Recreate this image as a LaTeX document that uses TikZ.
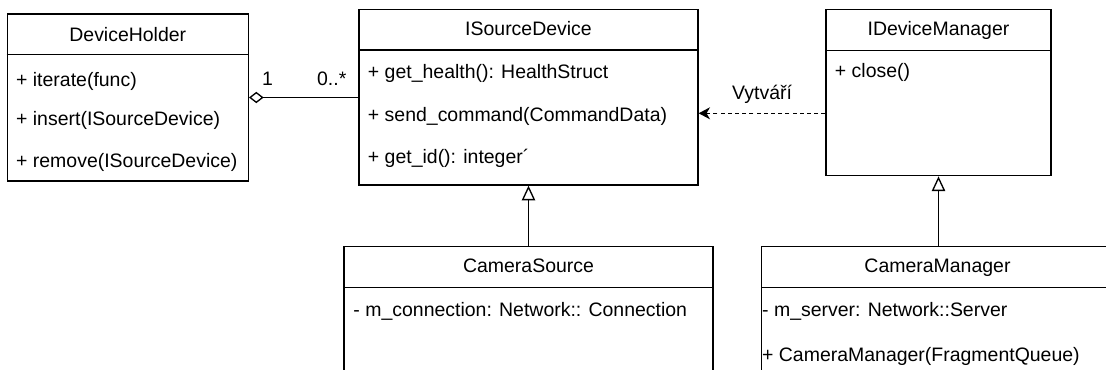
\documentclass[tikz,border=0pt]{standalone}
\usepackage{fontspec}
\setmainfont{Liberation Sans}
\usetikzlibrary{arrows.meta,fit,calc}
\begin{document}
\begin{tikzpicture}[x=0.75pt,y=-0.75pt,line width=1pt,
  umlbox/.style={draw,rectangle,inner sep=0pt,line width=1pt},
  txt/.style={anchor=base west,inner sep=0pt,font=\fontsize{14.6}{17}\selectfont},
  ttl/.style={anchor=base,inner sep=0pt,font=\fontsize{14.6}{17}\selectfont},
  gen/.style={-{Triangle[open,length=11pt,width=10pt]}},
  dep/.style={dash pattern=on 3pt off 2.4pt,-{Stealth[length=8.5pt,width=9pt,inset=2.6pt]}},
  agg/.style={{Diamond[open,length=11pt,width=8.5pt]}-}]
\clip (0,0) rectangle (1106,370);

% class boxes
\node[umlbox,fit={(7.3,14) (248.3,181)}] (holder) {};
\node[umlbox,fit={(359,9.3) (698,185)}] (isrc) {};
\node[umlbox,fit={(826,9.7) (1051,175.7)}] (idm) {};
\node[umlbox,fit={(344,246.7) (713,395)}] (csrc) {};
\node[umlbox,fit={(761.7,246.7) (1115,395)}] (cmgr) {};

% separators between name and members
\foreach \b in {holder,isrc,idm,csrc,cmgr}
  \draw ($(\b.north west)+(0,41.5)$) -- ($(\b.north east)+(0,41.5)$);

% DeviceHolder
\node[ttl] (holderT) at (127.8,41.7) {DeviceHolder};
\node[txt] (holder1) at (15.5,86.5) {+ iterate(func)};
\node[txt] (holder2) at (15.5,126) {+ insert(ISourceDevice)};
\node[txt] (holder3) at (15.5,168) {+ remove(ISourceDevice)};

% ISourceDevice
\node[ttl] (isrcT) at (528.5,36) {ISourceDevice};
\node[txt] (isrc1) at (367.3,78.3) {+ get\_health(): HealthStruct};
\node[txt] (isrc2) at (367.3,121.7) {+ send\_command(CommandData)};
\node[txt] (isrc3) at (367.3,163.5) {+ get\_id(): integer´};

% IDeviceManager
\node[ttl] (idmT) at (938.5,36) {IDeviceManager};
\node[txt] (idm1) at (834.3,78) {+ close()};

% CameraSource
\node[ttl] (csrcT) at (528.5,272.7) {CameraSource};
\node[txt] (csrc1) at (352.8,316.7) {- m\_connection: Network:: Connection};

% CameraManager
\node[ttl] (cmgrT) at (937.5,272.7) {CameraManager};
\node[txt] (cmgr1) at (761.5,316.7) {- m\_server: Network::Server};
\node[txt] (cmgr2) at (761.5,361.7) {+ CameraManager(FragmentQueue)};

% aggregation DeviceHolder -- ISourceDevice
\draw[agg] (holder.east) -- (isrc.west |- holder.east);
\node[txt] (multA) at (261.5,86) {1};
\node[txt] (multB) at (316.5,86) {0..*};

% dependency IDeviceManager -> ISourceDevice
\coordinate (depy) at (0,113.3);
\draw[dep] (idm.west |- depy) -- (isrc.east |- depy);
\node[txt] (depL) at (731.5,99.3) {Vytváří};

% generalisations
\draw[gen] (csrc.north) -- (isrc.south);
\draw[gen] (idm.south |- cmgr.north) -- (idm.south);
\end{tikzpicture}
\end{document}
